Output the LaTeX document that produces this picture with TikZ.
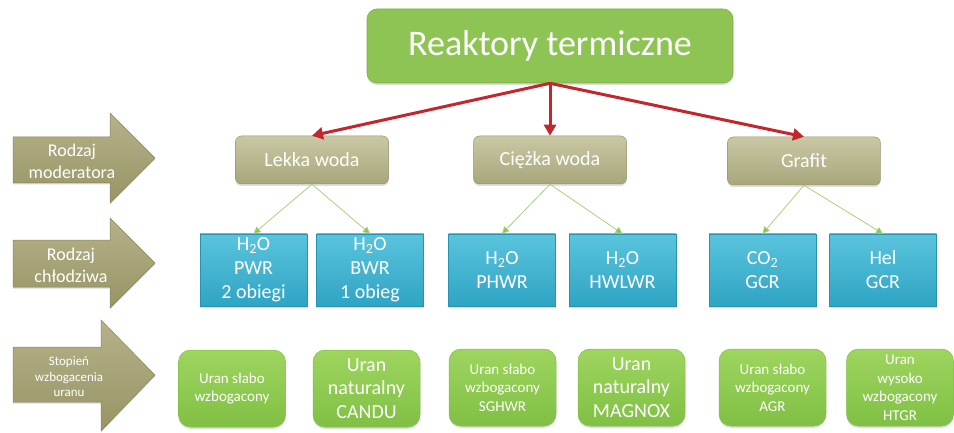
\documentclass[tikz,border=0pt]{standalone}
\usepackage{fontspec}
\setmainfont{Carlito}
\usetikzlibrary{arrows.meta,shadows}
\definecolor{topG}{HTML}{8DC454}
\definecolor{topGD}{HTML}{7AB043}
\definecolor{modT}{HTML}{CAC8A4}
\definecolor{modB}{HTML}{A8A67A}
\definecolor{modD}{HTML}{97956A}
\definecolor{bluT}{HTML}{5AC4DD}
\definecolor{bluB}{HTML}{2FA4C4}
\definecolor{bluD}{HTML}{2893B1}
\definecolor{fueT}{HTML}{9ED55F}
\definecolor{fueB}{HTML}{80C044}
\definecolor{arrT}{HTML}{B5B28A}
\definecolor{arrB}{HTML}{979465}
\definecolor{arrD}{HTML}{8A875B}
\definecolor{redA}{HTML}{C1272D}
\definecolor{lineG}{HTML}{A9D17F}
\definecolor{headG}{HTML}{8CC63F}
\begin{document}
\begin{tikzpicture}[x=1pt,y=-1pt,
  softshadow/.style={drop shadow={opacity=0.25,shadow xshift=0pt,shadow yshift=-2pt}},
  topbox/.style={rectangle, rounded corners=10pt, fill=topG, draw=topGD, line width=0.6pt,
    minimum width=366pt, minimum height=74pt, inner sep=2pt, text=white,
    font=\fontsize{36}{40}\selectfont, softshadow},
  modbox/.style={rectangle, rounded corners=6pt, top color=modT, bottom color=modB,
    draw=modD, line width=0.5pt, minimum width=153pt, minimum height=48pt, inner sep=2pt,
    text=white, font=\fontsize{20}{24}\selectfont, softshadow},
  coolbox/.style={rectangle, top color=bluT, bottom color=bluB, draw=bluD, line width=0.5pt,
    minimum width=107pt, minimum height=72pt, inner sep=1pt, align=center, text=white,
    font=\fontsize{20}{24}\selectfont, softshadow},
  fuelbox/.style={rectangle, rounded corners=12pt, top color=fueT, bottom color=fueB,
    draw=fueB, line width=0.5pt, minimum width=107pt, minimum height=77pt, inner sep=1pt,
    align=center, text=white, softshadow},
  smallfuel/.style={font=\fontsize{15}{18.5}\selectfont},
  bigfuel/.style={font=\fontsize{20}{23.5}\selectfont},
  larrow/.style={top color=arrT, bottom color=arrB, draw=arrD, line width=0.5pt,
    drop shadow={opacity=0.3,shadow xshift=0pt,shadow yshift=-1.5pt}},
  lefttext/.style={align=center, text=white, inner sep=0pt},
  redarrow/.style={draw=redA, line width=3pt, -{Triangle[length=11pt,width=12pt]}},
  grnarrow/.style={draw=lineG, line width=0.8pt, -{Triangle[length=7pt,width=7pt,fill=headG]}}
]
\useasboundingbox (0,0) rectangle (954,433);
\fill[white] (0,0) rectangle (954,433);

% left arrows
\path[larrow] (13,137) -- (110,137) -- (110,113) -- (155,158) -- (110,203) -- (110,183) -- (13,183) -- cycle;
\node[lefttext, font=\fontsize{18}{22}\selectfont] (lab1) at (72,161) {Rodzaj\\moderatora};
\path[larrow] (13,240) -- (110,240) -- (110,218) -- (155,263) -- (110,308) -- (110,287) -- (13,287) -- cycle;
\node[lefttext, font=\fontsize{18}{22}\selectfont] (lab2) at (71,265) {Rodzaj\\chłodziwa};
\path[larrow] (13,347) -- (101,347) -- (101,320) -- (155,375) -- (101,431) -- (101,402) -- (13,402) -- cycle;
\node[lefttext, font=\fontsize{13}{15.5}\selectfont] (lab3) at (69,377) {Stopień\\wzbogacenia\\uranu};

% top
\node[topbox] (top) at (550,46) {Reaktory termiczne};

% moderators
\node[modbox] (lekka) at (312,160) {Lekka woda};
\node[modbox] (ciezka) at (550,160) {Ciężka woda};
\node[modbox] (grafit) at (804,161) {Grafit};

% coolants
\node[coolbox] (c1) at (253.5,270) {H\textsubscript{2}O\\PWR\\2 obiegi};
\node[coolbox] (c2) at (370,270) {H\textsubscript{2}O\\BWR\\1 obieg};
\node[coolbox] (c3) at (502,270) {H\textsubscript{2}O\\PHWR};
\node[coolbox] (c4) at (622.5,270) {H\textsubscript{2}O\\HWLWR};
\node[coolbox] (c5) at (762.5,270) {CO\textsubscript{2}\\GCR};
\node[coolbox] (c6) at (883,270) {Hel\\GCR};

% fuels
\node[fuelbox, smallfuel] (f1) at (232,388.5) {Uran słabo\\wzbogacony};
\node[fuelbox, bigfuel] (f2) at (366.5,388.5) {Uran\\naturalny\\CANDU};
\node[fuelbox, smallfuel] (f3) at (502.5,387.5) {Uran słabo\\wzbogacony\\SGHWR};
\node[fuelbox, bigfuel] (f4) at (631.5,387.5) {Uran\\naturalny\\MAGNOX};
\node[fuelbox, smallfuel] (f5) at (772.5,387.5) {Uran słabo\\wzbogacony\\AGR};
\node[fuelbox, smallfuel] (f6) at (900,387.5) {Uran\\wysoko\\wzbogacony\\HTGR};

% red arrows
\draw[redarrow] (top.south) -- (lekka.north);
\draw[redarrow] (top.south) -- (ciezka.north);
\draw[redarrow] (top.south) -- (grafit.north);

% green connectors
\draw[grnarrow] (lekka.south) -- (c1.north);
\draw[grnarrow] (lekka.south) -- (c2.north);
\draw[grnarrow] (ciezka.south) -- (c3.north);
\draw[grnarrow] (ciezka.south) -- (c4.north);
\draw[grnarrow] (grafit.south) -- (c5.north);
\draw[grnarrow] (grafit.south) -- (c6.north);
\end{tikzpicture}
\end{document}
